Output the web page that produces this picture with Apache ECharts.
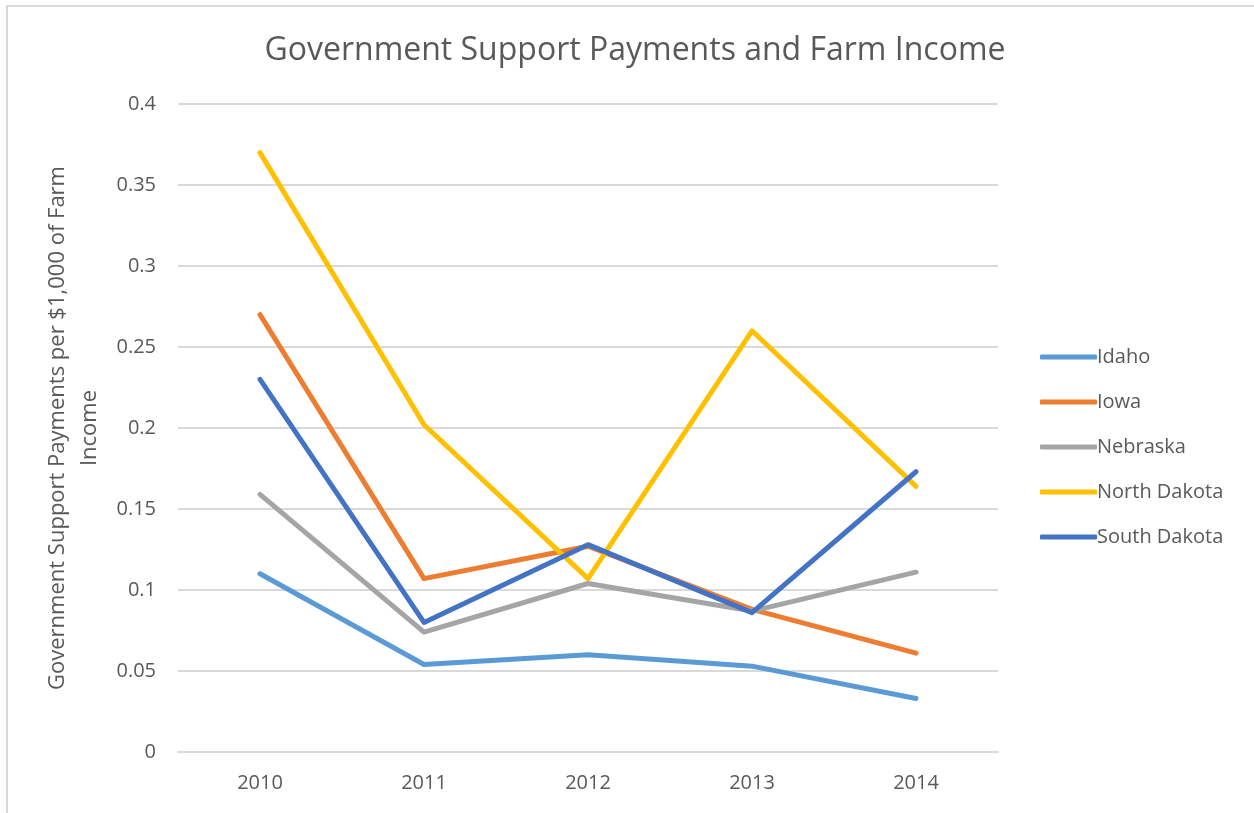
<!DOCTYPE html>
<html>
<head>
<meta charset="utf-8">
<script src="https://cdn.jsdelivr.net/npm/echarts@6/dist/echarts.min.js"></script>
<style>
html,body{margin:0;padding:0;background:#fff;}
#chart{width:1254px;height:813px;}
</style>
</head>
<body>
<div id="chart"></div>
<script>
const categories = ['2010', '2011', '2012', '2013', '2014'];
const idaho = [0.110, 0.054, 0.060, 0.053, 0.033];
const iowa = [0.270, 0.107, 0.127, 0.088, 0.061];
const nebraska = [0.159, 0.074, 0.104, 0.087, 0.111];
const northDakota = [0.370, 0.202, 0.107, 0.260, 0.164];
const southDakota = [0.230, 0.080, 0.128, 0.086, 0.173];
const seriesNames = ['Idaho', 'Iowa', 'Nebraska', 'North Dakota', 'South Dakota'];
const seriesData = [idaho, iowa, nebraska, northDakota, southDakota];
const colors = ['#5B9BD5', '#ED7D31', '#A5A5A5', '#FFC000', '#4472C4'];

const chart = echarts.init(document.getElementById('chart'), null, {renderer: 'canvas'});
const font = '"Open Sans", "DejaVu Sans", sans-serif';
chart.setOption({
  animation: false,
  backgroundColor: '#fff',
  color: colors,
  textStyle: {fontFamily: font},
  title: {
    text: 'Government Support Payments and Farm Income',
    left: 630, top: 30, textAlign: 'center',
    textStyle: {fontSize: 32, fontWeight: 'normal', color: '#595959', fontFamily: font}
  },
  legend: {
    orient: 'vertical',
    left: 1035, top: 342,
    itemWidth: 57, itemHeight: 5, itemGap: 25,
    icon: 'roundRect',
    textStyle: {fontSize: 20, color: '#595959', padding: [0, 0, 0, -5]},
    data: seriesNames
  },
  grid: {left: 178, right: 256, top: 104, bottom: 61, containLabel: false},
  xAxis: {
    type: 'category',
    data: categories,
    boundaryGap: true,
    axisLine: {show: true, lineStyle: {color: '#d9d9d9', width: 2}},
    axisTick: {show: false},
    axisLabel: {fontSize: 20, color: '#595959', margin: 21}
  },
  yAxis: {
    type: 'value',
    min: 0, max: 0.4, interval: 0.05,
    name: 'Government Support Payments per $1,000 of Farm\nIncome',
    nameLocation: 'middle',
    nameGap: 70,
    nameTextStyle: {fontSize: 22, color: '#595959', lineHeight: 32},
    axisLine: {show: false},
    axisTick: {show: false},
    axisLabel: {fontSize: 20, color: '#595959', margin: 22,
      formatter: v => String(parseFloat(v.toFixed(2)))},
    splitLine: {lineStyle: {color: '#d9d9d9', width: 2}}
  },
  graphic: [
    {type: 'rect', shape: {x: 6, y: 5, width: 1248, height: 2}, style: {fill: '#d9d9d9'}, silent: true},
    {type: 'rect', shape: {x: 6, y: 5, width: 2, height: 808}, style: {fill: '#d9d9d9'}, silent: true}
  ],
  series: seriesNames.map((n, i) => ({
    name: n,
    type: 'line',
    data: seriesData[i],
    showSymbol: false,
    symbol: 'none',
    lineStyle: {width: 5, color: colors[i], cap: 'round', join: 'round'},
    itemStyle: {color: colors[i]}
  }))
});
</script>
</body>
</html>
